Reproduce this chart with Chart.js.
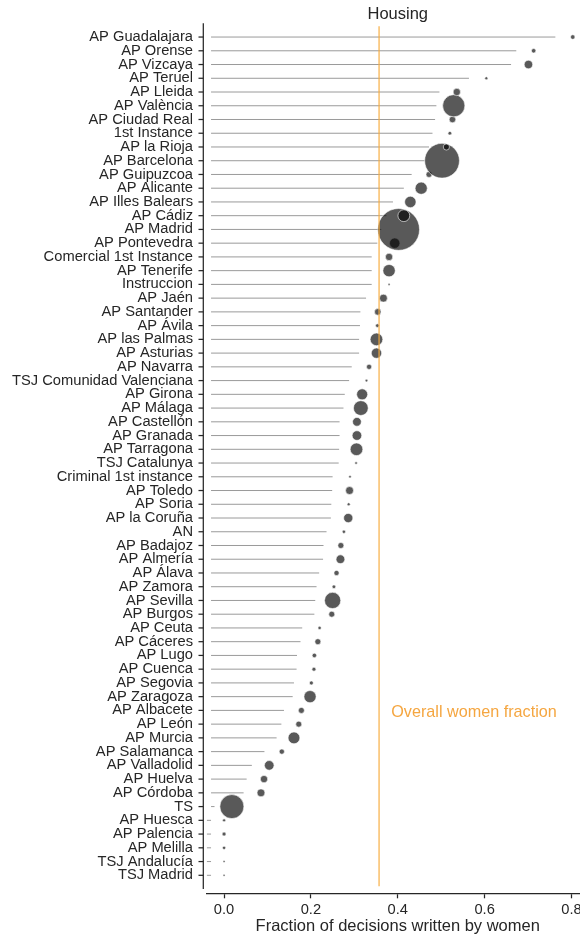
<!DOCTYPE html>
<html>
<head>
<meta charset="utf-8">
<script src="https://cdn.jsdelivr.net/npm/chart.js@4.4.1/dist/chart.umd.min.js"></script>
<style>
  html, body { margin: 0; padding: 0; overflow: hidden; background: #ffffff; }
  canvas { display: block; }
</style>
</head>
<body>
<canvas id="chart" width="600" height="938"></canvas>
<script>
// Courts, ordered from the highest to the lowest share of decisions written by women
const categories = [
  'AP Guadalajara', 'AP Orense', 'AP Vizcaya', 'AP Teruel', 'AP Lleida', 'AP València',
  'AP Ciudad Real', '1st Instance', 'AP la Rioja', 'AP Barcelona', 'AP Guipuzcoa',
  'AP Alicante', 'AP Illes Balears', 'AP Cádiz', 'AP Madrid', 'AP Pontevedra',
  'Comercial 1st Instance', 'AP Tenerife', 'Instruccion', 'AP Jaén', 'AP Santander',
  'AP Ávila', 'AP las Palmas', 'AP Asturias', 'AP Navarra', 'TSJ Comunidad Valenciana',
  'AP Girona', 'AP Málaga', 'AP Castellón', 'AP Granada', 'AP Tarragona', 'TSJ Catalunya',
  'Criminal 1st instance', 'AP Toledo', 'AP Soria', 'AP la Coruña', 'AN', 'AP Badajoz',
  'AP Almería', 'AP Álava', 'AP Zamora', 'AP Sevilla', 'AP Burgos', 'AP Ceuta',
  'AP Cáceres', 'AP Lugo', 'AP Cuenca', 'AP Segovia', 'AP Zaragoza', 'AP Albacete',
  'AP León', 'AP Murcia', 'AP Salamanca', 'AP Valladolid', 'AP Huelva', 'AP Córdoba',
  'TS', 'AP Huesca', 'AP Palencia', 'AP Melilla', 'TSJ Andalucía', 'TSJ Madrid'
];

// Fraction of housing decisions written by women, per court
const womenFraction = [
  0.803, 0.713, 0.701, 0.604, 0.536, 0.529,
  0.526, 0.520, 0.512, 0.502, 0.472,
  0.454, 0.429, 0.414, 0.402, 0.393,
  0.380, 0.380, 0.380, 0.367, 0.354,
  0.353, 0.351, 0.351, 0.334, 0.328,
  0.318, 0.315, 0.306, 0.306, 0.305, 0.304,
  0.290, 0.289, 0.287, 0.286, 0.276, 0.269,
  0.268, 0.259, 0.253, 0.250, 0.248, 0.220,
  0.216, 0.208, 0.207, 0.201, 0.198, 0.178,
  0.172, 0.161, 0.133, 0.104, 0.092, 0.085,
  0.018, 0.000, 0.000, 0.000, 0.000, 0.000
];

// Number of housing decisions per court (sets the marker area)
const decisions = [
  9, 9, 32, 4, 24, 219,
  19, 6, 17, 538, 16,
  66, 58, 62, 777, 48,
  24, 68, 2, 28, 19,
  6, 71, 48, 12, 3,
  54, 97, 34, 41, 71, 3,
  3, 28, 4, 38, 5, 16,
  34, 12, 6, 117, 16, 5,
  16, 9, 7, 7, 66, 16,
  16, 62, 12, 41, 24, 28,
  256, 4, 7, 5, 2, 2
];

const overallWomenFraction = 0.357;
const xTickValues = [0, 0.2, 0.4, 0.6, 0.8];

const FONT = '"Liberation Sans", Arial, Helvetica, sans-serif';
const INK = '#262626';
const STEM_START = -0.03;   // stems begin just right of the y axis
const STEM_GAP = 0.04;      // stems stop short of each marker
const AREA_SCALE = 0.75;    // radius = AREA_SCALE * sqrt(decisions)

// Horizontal guide stems, one segment per court, separated by gaps
const stemData = [];
categories.forEach((name, i) => {
  stemData.push({ x: STEM_START, y: i });
  stemData.push({ x: womenFraction[i] - STEM_GAP, y: i });
  stemData.push({ x: null, y: null });
});

// Markers, drawn from the bottom row upward so upper rows sit on top
const markerData = [];
for (let i = categories.length - 1; i >= 0; i--) {
  markerData.push({ x: womenFraction[i], y: i, n: decisions[i] });
}

const overallLine = [
  { x: overallWomenFraction, y: -0.78 },
  { x: overallWomenFraction, y: 61.8 }
];

// Detached left spine with its tick marks, panel title and reference-line label
const decorations = {
  id: 'decorations',
  afterDraw(chart) {
    const { ctx, chartArea, scales } = chart;
    const ys = scales.y, xs = scales.x;
    const spineX = chartArea.left - 3.4;
    ctx.save();
    ctx.strokeStyle = INK;
    ctx.lineWidth = 1.25;
    ctx.beginPath();
    ctx.moveTo(spineX, ys.getPixelForValue(-1));
    ctx.lineTo(spineX, ys.getPixelForValue(62));
    ctx.stroke();
    categories.forEach((name, i) => {
      const py = ys.getPixelForValue(i);
      ctx.beginPath();
      ctx.moveTo(spineX - 4.8, py);
      ctx.lineTo(spineX, py);
      ctx.stroke();
    });

    ctx.fillStyle = INK;
    ctx.font = '16.5px ' + FONT;
    ctx.textAlign = 'center';
    ctx.textBaseline = 'middle';
    ctx.fillText('Housing', (chartArea.left + chartArea.right) / 2, 14);

    ctx.fillStyle = '#f5a640';
    ctx.font = '16.2px ' + FONT;
    ctx.textAlign = 'left';
    ctx.fillText('Overall women fraction', xs.getPixelForValue(0.385), ys.getPixelForValue(49) + 1.8);
    ctx.restore();
  }
};

new Chart(document.getElementById('chart'), {
  type: 'scatter',
  data: {
    datasets: [
      {
        label: 'Overall women fraction',
        data: overallLine,
        showLine: true,
        borderColor: 'rgba(247, 170, 60, 0.72)',
        borderWidth: 1.6,
        pointRadius: 0,
        order: 0
      },
      {
        label: 'Courts',
        data: markerData,
        showLine: false,
        pointRadius: ctx => AREA_SCALE * Math.sqrt(ctx.raw.n),
        pointBackgroundColor: 'rgba(0, 0, 0, 0.65)',
        pointBorderColor: 'rgba(255, 255, 255, 0.65)',
        pointBorderWidth: 0.9,
        order: 1
      },
      {
        label: 'Stems',
        data: stemData,
        showLine: true,
        spanGaps: false,
        borderColor: '#9a9a9a',
        borderWidth: 1,
        pointRadius: 0,
        order: 2
      }
    ]
  },
  options: {
    responsive: false,
    animation: false,
    devicePixelRatio: 1,
    layout: { autoPadding: false, padding: { top: 23.3, right: 11.2, left: 0, bottom: 0 } },
    plugins: { legend: { display: false }, tooltip: { enabled: false } },
    scales: {
      x: {
        type: 'linear',
        min: -0.04,
        max: 0.84,
        afterBuildTicks: s => { s.ticks = xTickValues.map(v => ({ value: v })); },
        afterFit: s => { s.height = 44.7; },
        grid: { drawOnChartArea: false, drawTicks: true, tickLength: 5, tickColor: INK, tickWidth: 1.25 },
        border: { display: true, color: INK, width: 1.25 },
        ticks: {
          color: INK,
          font: { family: FONT, size: 14.7 },
          padding: 2.5,
          autoSkip: false,
          maxRotation: 0,
          callback: v => Number(v).toFixed(1)
        },
        title: {
          display: true,
          text: 'Fraction of decisions written by women',
          color: INK,
          font: { family: FONT, size: 16.5 },
          padding: { top: 0, bottom: 2 }
        }
      },
      y: {
        type: 'linear',
        reverse: true,
        min: -1,
        max: 62.31,
        afterBuildTicks: s => { s.ticks = categories.map((name, i) => ({ value: i })); },
        afterFit: s => { s.width = 206.7; },
        grid: { display: false, drawTicks: false, tickLength: 0 },
        border: { display: false },
        ticks: {
          color: INK,
          font: { family: FONT, size: 14.7 },
          padding: 13.7,
          autoSkip: false,
          callback: v => categories[v] !== undefined ? categories[v] : ''
        }
      }
    }
  },
  plugins: [decorations]
});
</script>
</body>
</html>
